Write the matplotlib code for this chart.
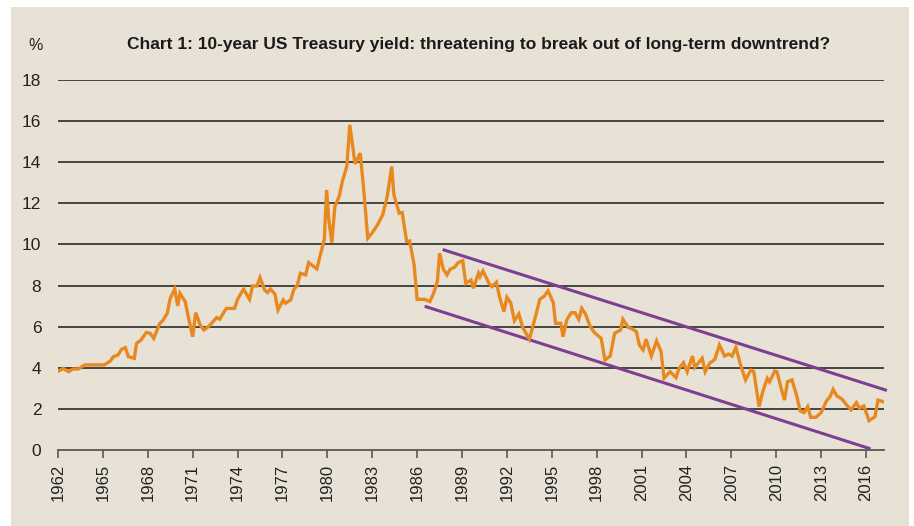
import matplotlib.pyplot as plt
from matplotlib.patches import Rectangle

# 10-year US Treasury yield (%)
years = [1961.95, 1962.35, 1962.7, 1963.0, 1963.35, 1963.8, 1965.1, 1965.5, 1965.7, 1966.0,
         1966.25, 1966.5, 1966.7, 1967.1, 1967.25, 1967.55, 1967.9, 1968.15, 1968.4, 1968.8,
         1969.0, 1969.3, 1969.5, 1969.8, 1970.0, 1970.15, 1970.5, 1970.75, 1971.0, 1971.2,
         1971.5, 1971.75, 1972.05, 1972.3, 1972.6, 1972.8, 1973.25, 1973.8, 1974.0, 1974.4,
         1974.8, 1975.0, 1975.3, 1975.5, 1975.8, 1976.0, 1976.2, 1976.5, 1976.7, 1977.05,
         1977.2, 1977.55, 1977.75, 1978.0, 1978.2, 1978.55, 1978.75, 1979.3, 1979.5, 1979.8,
         1979.95, 1980.1, 1980.3, 1980.5, 1980.8, 1981.0, 1981.3, 1981.5, 1981.85, 1982.2,
         1982.45, 1982.7, 1983.0, 1983.35, 1983.7, 1984.0, 1984.3, 1984.45, 1984.8, 1985.0,
         1985.3, 1985.5, 1985.8, 1986.0, 1986.5, 1986.85, 1987.1, 1987.35, 1987.5, 1987.75,
         1988.0, 1988.2, 1988.5, 1988.75, 1989.05, 1989.25, 1989.6, 1989.75, 1990.1, 1990.2,
         1990.4, 1990.8, 1991.0, 1991.3, 1991.5, 1991.8, 1992.0, 1992.25, 1992.5, 1992.8,
         1993.05, 1993.5, 1993.85, 1994.2, 1994.5, 1994.75, 1995.1, 1995.25, 1995.6, 1995.75,
         1996.0, 1996.3, 1996.55, 1996.8, 1997.0, 1997.25, 1997.55, 1997.85, 1998.3, 1998.55,
         1998.9, 1999.2, 1999.6, 1999.75, 2000.1, 2000.3, 2000.65, 2000.85, 2001.1, 2001.3,
         2001.65, 2002.0, 2002.3, 2002.5, 2002.9, 2003.3, 2003.5, 2003.8, 2004.05, 2004.4,
         2004.55, 2005.05, 2005.25, 2005.55, 2005.9, 2006.2, 2006.55, 2006.8, 2007.05, 2007.3,
         2007.6, 2007.95, 2008.3, 2008.5, 2008.85, 2009.1, 2009.4, 2009.55, 2009.9, 2010.05,
         2010.3, 2010.55, 2010.75, 2011.05, 2011.35, 2011.6, 2011.85, 2012.1, 2012.3, 2012.65,
         2013.0, 2013.35, 2013.6, 2013.8, 2014.05, 2014.4, 2014.7, 2015.0, 2015.35, 2015.55,
         2015.85, 2016.2, 2016.6, 2016.8, 2017.15]
yields = [3.81, 3.97, 3.81, 3.94, 3.94, 4.14, 4.14, 4.33, 4.54, 4.62,
          4.90, 4.98, 4.54, 4.46, 5.19, 5.35, 5.72, 5.68, 5.43, 6.16,
          6.29, 6.65, 7.38, 7.83, 7.01, 7.62, 7.22, 6.33, 5.51, 6.68,
          6.08, 5.84, 6.00, 6.19, 6.44, 6.36, 6.89, 6.89, 7.33, 7.83,
          7.33, 7.98, 7.98, 8.39, 7.79, 7.66, 7.83, 7.58, 6.81, 7.30,
          7.14, 7.30, 7.79, 8.03, 8.60, 8.52, 9.12, 8.81, 9.41, 10.25,
          12.65, 11.19, 10.09, 11.84, 12.36, 13.06, 13.79, 15.82, 13.92, 14.44,
          12.49, 10.30, 10.57, 10.95, 11.44, 12.33, 13.79, 12.41, 11.52, 11.55,
          10.14, 10.17, 9.00, 7.33, 7.33, 7.22, 7.62, 8.19, 9.57, 8.79,
          8.52, 8.79, 8.89, 9.12, 9.21, 8.11, 8.27, 7.87, 8.60, 8.43,
          8.71, 8.11, 7.95, 8.16, 7.46, 6.73, 7.43, 7.17, 6.29, 6.62,
          5.97, 5.39, 6.33, 7.33, 7.49, 7.74, 7.17, 6.16, 6.16, 5.51,
          6.33, 6.68, 6.68, 6.36, 6.89, 6.62, 6.03, 5.71, 5.43, 4.38,
          4.57, 5.68, 5.84, 6.36, 5.97, 5.92, 5.76, 5.11, 4.87, 5.39,
          4.57, 5.30, 4.79, 3.49, 3.81, 3.52, 3.97, 4.25, 3.81, 4.57,
          4.02, 4.46, 3.81, 4.22, 4.41, 5.11, 4.57, 4.67, 4.57, 5.00,
          4.17, 3.41, 3.89, 3.81, 2.11, 2.84, 3.49, 3.32, 3.84, 3.81,
          3.08, 2.43, 3.32, 3.41, 2.68, 1.90, 1.82, 2.11, 1.59, 1.59,
          1.82, 2.38, 2.60, 2.95, 2.63, 2.47, 2.19, 1.95, 2.30, 2.03,
          2.14, 1.43, 1.62, 2.43, 2.35]

# downtrend channel end points
upper_x = [1987.8, 2017.3]
upper_y = [9.73, 2.92]
lower_x = [1986.6, 2016.2]
lower_y = [6.97, 0.08]

x_ticks = list(range(1962, 2017, 3))
y_ticks = list(range(0, 19, 2))

bg = '#e8e2d6'
plt.rcParams['font.family'] = ['Liberation Sans', 'DejaVu Sans']

fig = plt.figure(figsize=(9.14, 5.26), dpi=100)
fig.patch.set_facecolor('white')
fig.patches.append(Rectangle((11 / 914, 0.0), 898 / 914, 1 - 7 / 526,
                             transform=fig.transFigure, facecolor=bg,
                             edgecolor='none', zorder=-10))

ax = fig.add_axes([58 / 914, 1 - 450 / 526, 826 / 914, 370 / 526])
ax.set_facecolor(bg)

for v in y_ticks[1:]:
    ax.axhline(v, color='#46443f', lw=1.4, zorder=1)

ax.plot(years, yields, color='#e8891f', lw=2.4, zorder=3, solid_joinstyle='miter')
ax.plot(upper_x, upper_y, color='#7d3f92', lw=2.2, zorder=2, clip_on=False)
ax.plot(lower_x, lower_y, color='#7d3f92', lw=2.2, zorder=2)

ax.set_xlim(1962, 2017.2)
ax.set_ylim(0, 18)
ax.set_xticks(x_ticks)
ax.set_xticklabels([str(y) for y in x_ticks], rotation=90, fontsize=12, color='#222222')
ax.set_yticks(y_ticks)
ax.set_yticklabels([str(v) for v in y_ticks], fontsize=12.5, color='#222222')
ax.tick_params(axis='y', length=0, pad=12)
ax.tick_params(axis='x', length=6, width=1.2, color='#5a5854', pad=4, direction='out')

for s in ['top', 'right', 'left']:
    ax.spines[s].set_visible(False)
ax.spines['bottom'].set_color('#5a5854')
ax.spines['bottom'].set_linewidth(1.3)

fig.text(28 / 914, 1 - 45 / 526, '%', fontsize=11.5, ha='left', va='center', color='#222222')
fig.text(127 / 914, 1 - 45 / 526,
         'Chart 1: 10-year US Treasury yield: threatening to break out of long-term downtrend?',
         fontsize=12.5, fontweight='bold', ha='left', va='center', color='#1a1a1a',
         family=['Liberation Sans Narrow', 'Liberation Sans', 'DejaVu Sans'])

fig.savefig('out.png', dpi=100, facecolor=fig.get_facecolor())
